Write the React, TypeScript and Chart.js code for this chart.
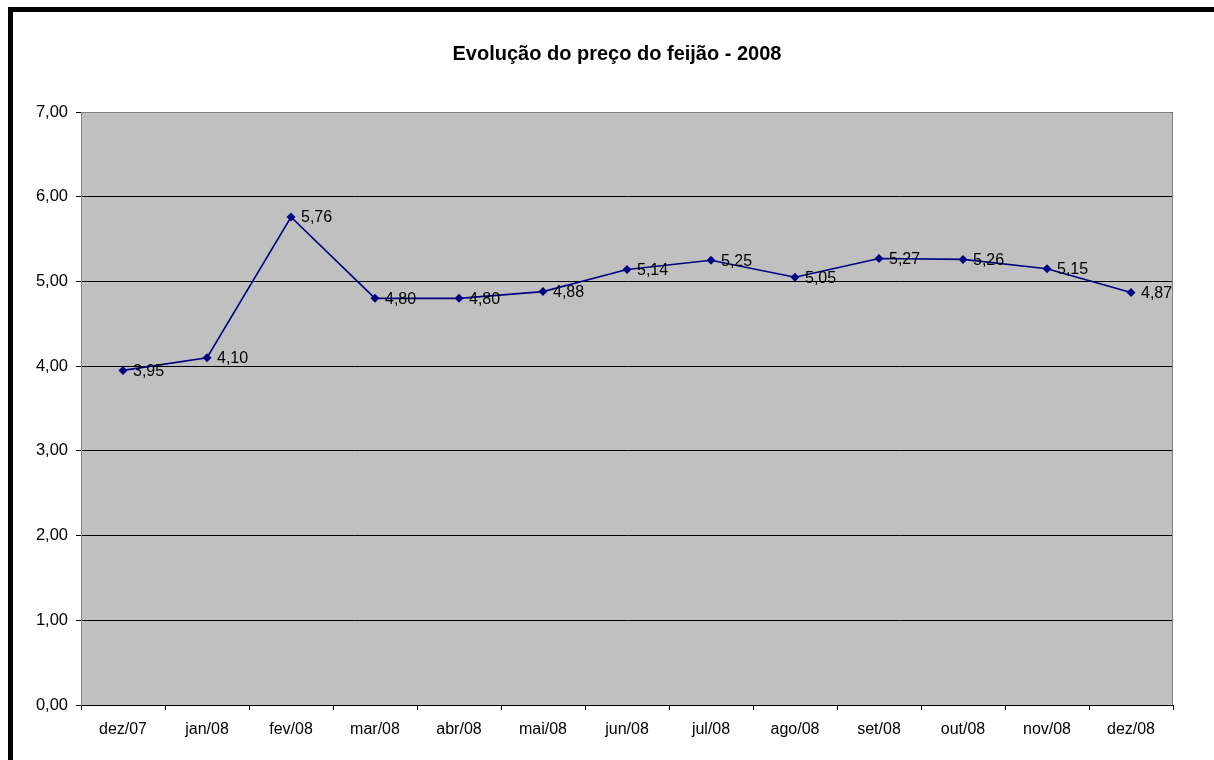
import React, { useEffect, useRef } from "react";
import { Chart, registerables } from "chart.js";

Chart.register(...registerables);

const categories = ["dez/07", "jan/08", "fev/08", "mar/08", "abr/08", "mai/08", "jun/08", "jul/08", "ago/08", "set/08", "out/08", "nov/08", "dez/08"];
const prices = [3.95, 4.1, 5.76, 4.8, 4.8, 4.88, 5.14, 5.25, 5.05, 5.27, 5.26, 5.15, 4.87];
const chartTitle = "Evolução do preço do feijão - 2008";
const yMin = 0;
const yMax = 7;
const yStep = 1;

const FONT = "Arial, 'Liberation Sans', sans-serif";
const fmt = (v: number) => v.toFixed(2).replace(".", ",");

const plotBg = {
  id: "plotBg",
  beforeDraw(chart: any) {
    const { ctx, chartArea } = chart;
    ctx.save();
    ctx.fillStyle = "#C0C0C0";
    ctx.fillRect(chartArea.left, chartArea.top, chartArea.right - chartArea.left, chartArea.bottom - chartArea.top);
    ctx.restore();
  },
  afterDraw(chart: any) {
    const { ctx, chartArea } = chart;
    ctx.save();
    ctx.strokeStyle = "#808080";
    ctx.lineWidth = 1;
    ctx.beginPath();
    ctx.moveTo(chartArea.left + 0.5, chartArea.bottom);
    ctx.lineTo(chartArea.left + 0.5, chartArea.top + 0.5);
    ctx.lineTo(chartArea.right - 0.5, chartArea.top + 0.5);
    ctx.lineTo(chartArea.right - 0.5, chartArea.bottom);
    ctx.stroke();
    ctx.restore();
  },
};

const dataLabels = {
  id: "dataLabels",
  afterDatasetsDraw(chart: any) {
    const { ctx } = chart;
    const meta = chart.getDatasetMeta(0);
    ctx.save();
    ctx.font = `16px ${FONT}`;
    ctx.fillStyle = "#000";
    ctx.textAlign = "left";
    ctx.textBaseline = "middle";
    meta.data.forEach((pt: any, i: number) => {
      ctx.fillText(fmt(prices[i]), pt.x + 10, pt.y + 1);
    });
    ctx.restore();
  },
};

export default function App() {
  const ref = useRef<HTMLCanvasElement>(null);
  useEffect(() => {
    if (!ref.current) return;
    const chart = new Chart(ref.current, {
      type: "line",
      data: {
        labels: categories,
        datasets: [
          {
            data: prices,
            borderColor: "#000080",
            backgroundColor: "#000080",
            borderWidth: 1.6,
            pointStyle: "rectRot",
            pointRadius: 4.5,
            pointBorderWidth: 0,
            tension: 0,
          },
        ],
      },
      options: {
        animation: false,
        responsive: false,
        devicePixelRatio: 1,
        layout: { padding: { top: 100, right: 41, bottom: 0, left: 0 } },
        plugins: {
          legend: { display: false },
          title: { display: false },
          tooltip: { enabled: false },
        },
        scales: {
          x: {
            type: "category",
            offset: true,
            afterFit: (s: any) => {
              s.height = 55;
            },
            grid: {
              offset: true,
              drawOnChartArea: false,
              drawTicks: true,
              tickLength: 5,
              tickColor: "#000",
            },
            border: { color: "#000", width: 1 },
            ticks: {
              color: "#000",
              font: { family: FONT, size: 16 },
              padding: 10,
              maxRotation: 0,
              autoSkip: false,
            },
          },
          y: {
            min: yMin,
            max: yMax,
            afterFit: (s: any) => {
              s.width = 68;
            },
            grid: {
              color: "#000",
              lineWidth: 1,
              tickLength: 5,
              tickColor: "#000",
            },
            border: { color: "#808080", width: 1 },
            ticks: {
              stepSize: yStep,
              color: "#000",
              font: { family: FONT, size: 16.5 },
              padding: 8,
              callback: (v: any) => fmt(Number(v)),
            },
          },
        },
      },
      plugins: [plotBg, dataLabels],
    });
    return () => chart.destroy();
  }, []);

  return (
    <div style={{ position: "fixed", left: 0, top: 0, width: 1214, height: 760, background: "#fff", overflow: "hidden" }}>
      <div
        style={{
          position: "absolute",
          left: 8,
          top: 7,
          right: 0,
          bottom: 0,
          borderTop: "5px solid #000",
          borderLeft: "5px solid #000",
        }}
      />
      <canvas ref={ref} width={1201} height={748} style={{ position: "absolute", left: 13, top: 12, width: 1201, height: 748 }} />
      <div
        style={{
          position: "absolute",
          left: 317,
          width: 600,
          top: 40,
          textAlign: "center",
          fontFamily: FONT,
          fontWeight: "bold",
          fontSize: 20,
          lineHeight: "26px",
          color: "#000",
        }}
      >
        {chartTitle}
      </div>
    </div>
  );
}
